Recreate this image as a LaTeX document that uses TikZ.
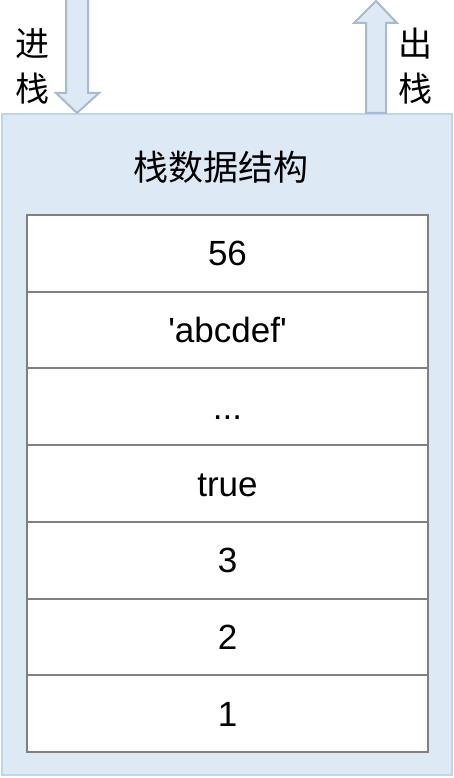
\documentclass[tikz,border=0pt]{standalone}
\usepackage{fontspec}
\setmainfont{Liberation Sans}
\newfontfamily\cjk{Noto Sans CJK SC}
\usepackage{xcolor}
\usetikzlibrary{positioning}
\definecolor{stackfill}{HTML}{DEE9F6}
\definecolor{stackline}{HTML}{BFD5EE}
\definecolor{arrowline}{HTML}{A9B9CE}
\definecolor{cellline}{HTML}{808080}

\begin{document}
\begin{tikzpicture}[x=1pt,y=-1pt,node distance=76.7pt,
                    cell/.style={rectangle,draw=cellline,line width=2pt,fill=white,
                      minimum width=401pt,minimum height=76.7pt,outer sep=0pt,
                      inner sep=0pt,text height=25pt,text depth=0pt,
                      font=\fontsize{35}{42}\selectfont},
                    label text/.style={font=\cjk\fontsize{34}{45}\selectfont,align=center}]
  \useasboundingbox (0,0) rectangle (454,778);

  % outer box
  \node[rectangle,draw=stackline,fill=stackfill,line width=2pt,outer sep=0pt,
        minimum width=450pt,minimum height=661pt] (stack) at (227,444.5) {};
  \node[font=\cjk\fontsize{35}{42}\selectfont] (title) at (221,167) {栈数据结构};

  % cells
  \node[cell] (c7) at (227.5,253.4) {56};
  \node[cell] (c6) [below of=c7] {\textquotesingle abcdef\textquotesingle};
  \node[cell] (c5) [below of=c6] {...};
  \node[cell] (c4) [below of=c5] {true};
  \node[cell] (c3) [below of=c4] {3};
  \node[cell] (c2) [below of=c3] {2};
  \node[cell] (c1) [below of=c2] {1};

  % push / pop arrows
  \draw[arrowline,fill=stackfill,line width=2pt,line join=miter]
    (66,-2) -- (88,-2) -- (88,93) -- (99,93) -- (77,113) -- (56,93) -- (66,93) -- cycle;
  \draw[arrowline,fill=stackfill,line width=2pt,line join=miter]
    (366,113) -- (366,23) -- (354,23) -- (376,1) -- (397,23) -- (386,23) -- (386,113) -- cycle;

  \node[label text] (push) at (32,66) {进\\栈};
  \node[label text] (pop) at (415,66) {出\\栈};
\end{tikzpicture}
\end{document}
